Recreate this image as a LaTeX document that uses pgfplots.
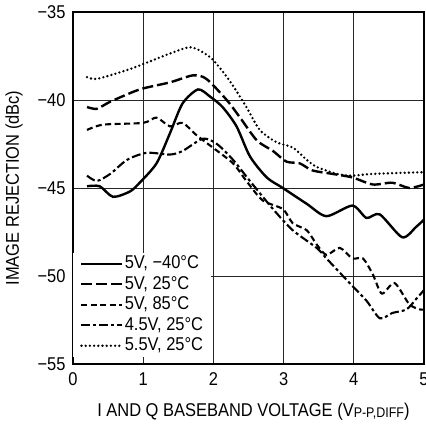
\documentclass[border=0pt]{standalone}
\usepackage{fontspec}
\setmainfont{Liberation Sans}[FakeStretch=0.89]
\usepackage{pgfplots}
\pgfplotsset{compat=1.18}

\begin{document}
\begin{tikzpicture}
  \path[use as bounding box] (-73pt,-60pt) rectangle (353pt,364pt);
  \begin{axis}[
    scale only axis,
    width=351pt, height=352pt,
    xmin=0, xmax=5, ymin=-55, ymax=-35,
    xtick={0,1,2,3,4,5}, xticklabels={0,1,2,3,4,5},
    ytick={-55,-50,-45,-40,-35},
    yticklabels={−55,−50,−45,−40,−35},
    font=\fontsize{18.5}{21}\selectfont,
    grid=major,
    major grid style={black!85, line width=0.8pt},
    major tick length=0pt,
    axis line style={line width=1.2pt},
    xticklabel style={yshift=-5.5pt},
    yticklabel style={xshift=-4pt},
    xlabel={I AND Q BASEBAND VOLTAGE (V{\fontsize{14}{16}\selectfont\raisebox{-0.25ex}{P-P,DIFF}})},
    xlabel style={at={(axis description cs:0.514,-0.148)}, anchor=base},
    ylabel={IMAGE REJECTION (dBc)},
    ylabel style={at={(axis description cs:-0.168,0.5)}, anchor=center},
    legend cell align=left,
    legend image code/.code={\draw[#1] (0pt,0pt) -- (41pt,0pt);},
    legend style={draw=none, fill=white, at={(rel axis cs:0,0.02)}, anchor=south west,
      inner xsep=7pt, inner ysep=1pt, row sep=0.5pt,
      nodes={inner xsep=1pt, inner ysep=2pt, text height=13pt, text depth=3pt}},
    every axis plot/.append style={smooth, tension=0.45, black},
  ]
    % 5V, -40C
    \addplot[line width=2.4pt] coordinates {
      (0.2,-44.9)(0.38,-44.9)(0.57,-45.5)(0.81,-45.2)(0.95,-44.7)(1.19,-43.6)
      (1.38,-41.9)(1.56,-40.2)(1.78,-39.4)(1.95,-39.8)(2.13,-40.4)(2.33,-41.5)
      (2.52,-43.2)(2.76,-44.4)(2.99,-45.0)(3.33,-45.9)(3.61,-46.6)(3.98,-46.0)
      (4.18,-46.7)(4.37,-46.5)(4.69,-47.8)(4.89,-47.2)(5.0,-46.8)
    };
    \addlegendentry{5V, −40°C}
    % 5V, 25C
    \addplot[line width=2.4pt, dash pattern=on 11pt off 4pt] coordinates {
      (0.2,-40.4)(0.34,-40.5)(0.53,-40.1)(0.95,-39.4)(1.38,-39.0)(1.71,-38.6)
      (1.9,-38.8)(2.19,-40.0)(2.38,-41.0)(2.62,-42.3)(2.85,-42.9)(3.04,-43.5)
      (3.23,-43.6)(3.41,-44.0)(3.7,-44.2)(3.98,-44.4)(4.27,-44.8)(4.55,-44.7)
      (4.79,-45.0)(5,-44.8)
    };
    \addlegendentry{5V, 25°C}
    % 5V, 85C
    \addplot[line width=2.1pt, dash pattern=on 6pt off 3.5pt] coordinates {
      (0.2,-41.7)(0.43,-41.4)(1.0,-41.3)(1.19,-41.0)(1.38,-41.5)(1.56,-41.3)
      (1.76,-42.0)(1.99,-42.7)(2.28,-43.6)(2.47,-44.6)(2.7,-45.7)(2.99,-46.2)
      (3.13,-47.0)(3.33,-47.4)(3.47,-48.2)(3.61,-48.8)(3.8,-48.4)(3.98,-49.0)
      (4.13,-49.0)(4.27,-49.9)(4.4,-51.0)(4.58,-50.4)(4.79,-51.6)(4.94,-51.9)(5,-51.9)
    };
    \addlegendentry{5V, 85°C}
    % 4.5V, 25C
    \addplot[line width=2.1pt, dash pattern=on 9pt off 3pt on 3pt off 3pt] coordinates {
      (0.2,-44.3)(0.34,-44.6)(0.53,-44.2)(0.77,-43.4)(1.05,-43.0)(1.38,-43.1)
      (1.56,-42.9)(1.85,-42.2)(2.05,-42.5)(2.28,-43.4)(2.52,-44.6)(2.85,-46.2)
      (3.13,-47.4)(3.47,-48.4)(3.61,-49.0)(3.94,-50.4)(4.18,-51.4)(4.37,-52.4)
      (4.55,-52.1)(4.75,-51.9)(4.89,-51.3)(5,-50.8)
    };
    \addlegendentry{4.5V, 25°C}
    % 5.5V, 25C
    \addplot[line width=2.6pt, line cap=round, dash pattern=on 0pt off 4.2pt] coordinates {
      (0.2,-38.7)(0.34,-38.8)(0.77,-38.3)(1.1,-37.8)(1.42,-37.3)(1.66,-37.0)
      (1.81,-37.2)(1.99,-37.7)(2.23,-38.9)(2.47,-40.4)(2.66,-41.7)(2.9,-42.4)
      (3.13,-42.7)(3.33,-43.4)(3.47,-43.8)(3.76,-44.2)(3.98,-44.3)(4.27,-44.2)(5,-44.1)
    };
    \addlegendentry{5.5V, 25°C}
  \end{axis}
\end{tikzpicture}
\end{document}
